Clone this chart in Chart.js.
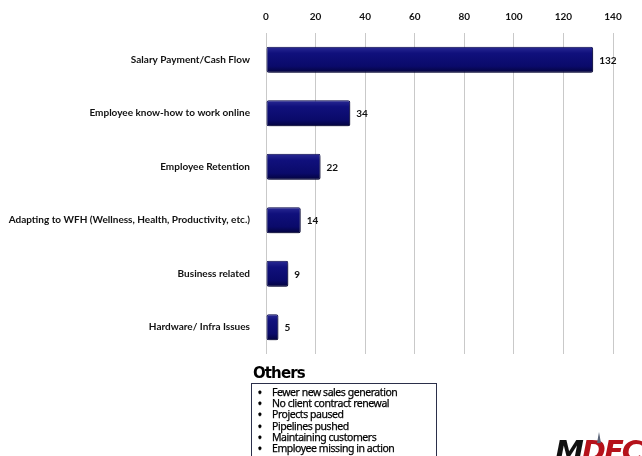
<!DOCTYPE html>
<html>
<head>
<meta charset="utf-8">
<script src="https://cdn.jsdelivr.net/npm/chart.js@4.4.1/dist/chart.umd.min.js"></script>
<style>
    html, body { margin: 0; padding: 0; background: #fff; }
    #wrap { position: relative; width: 642px; height: 456px; overflow: hidden; }
    #chart { position: absolute; left: 0; top: 0; }
    #othersTitle {
        position: absolute; left: 253px; top: 364px;
        font: bold 15px "DejaVu Sans", sans-serif; letter-spacing: -0.9px; color: #000;
    }
    #othersBox {
        position: absolute; left: 251px; top: 383px; width: 186px; height: 90px;
        border: 1.5px solid #2b2f4a; box-sizing: border-box;
    }
    #othersBox ul { margin: 3px 0 0 0; padding: 0 0 0 20px; list-style: none; }
    #othersBox li {
        position: relative; font: 10.5px/11.2px "Noto Sans", sans-serif; color: #000;
        letter-spacing: -0.45px; -webkit-text-stroke: 0.25px #000;
    }
    #othersBox li::before { content: "\2022"; position: absolute; left: -14px; font-size: 10px; font-weight: bold; }
    #logo {
        position: absolute; left: 555px; top: 434px;
        font: italic 900 29px "DejaVu Sans", sans-serif; letter-spacing: -2px;
    }
    #logo .m { color: #111; }
    #logo .d { color: #b5121b; }
    #spire {
        position: absolute; left: 597px; top: 432px; width: 0; height: 0;
        border-left: 2px solid transparent; border-right: 2px solid transparent;
        border-bottom: 11px solid #5a6478;
    }
</style>
</head>
<body>
<div id="wrap">
    <canvas id="chart" width="642" height="456"></canvas>
    <div id="othersTitle">Others</div>
    <div id="othersBox"><ul id="othersList"></ul></div>
    <div id="logo"><span class="m">M</span><span class="d">DEC</span></div>
    <div id="spire"></div>
</div>
<script>
const categories = [
    "Salary Payment/Cash Flow",
    "Employee know-how to work online",
    "Employee Retention",
    "Adapting to WFH (Wellness, Health, Productivity, etc.)",
    "Business related",
    "Hardware/ Infra Issues",
];
const counts = [132, 34, 22, 14, 9, 5];
const xTicks = [0, 20, 40, 60, 80, 100, 120, 140];
const otherItems = [
    "Fewer new sales generation",
    "No client contract renewal",
    "Projects paused",
    "Pipelines pushed",
    "Maintaining customers",
    "Employee missing in action",
];

const listEl = document.getElementById("othersList");
otherItems.forEach((t) => {
    const li = document.createElement("li");
    li.textContent = t;
    listEl.appendChild(li);
});

const LABEL_FONT = { family: "Lato, sans-serif", size: 10, weight: "bold" };

function barFill(ctx) {
    const chart = ctx.chart;
    const y = chart.scales?.y;
    if (!y || !chart.chartArea || ctx.dataIndex === undefined) return "#0d0d72";
    const c = y.getPixelForValue(ctx.dataIndex);
    const g = chart.ctx.createLinearGradient(0, c - 13, 0, c + 13);
    g.addColorStop(0, "#2a2a94");
    g.addColorStop(0.25, "#10107c");
    g.addColorStop(0.75, "#0a0a6a");
    g.addColorStop(1, "#03033c");
    return g;
}

const barShadow = {
    id: "barShadow",
    beforeDatasetDraw(chart) {
        const c = chart.ctx;
        c.save();
        c.shadowColor = "rgba(0,0,0,0.35)";
        c.shadowBlur = 3;
        c.shadowOffsetX = 2;
        c.shadowOffsetY = 2;
    },
    afterDatasetDraw(chart) {
        chart.ctx.restore();
    },
};

const valueLabels = {
    id: "valueLabels",
    afterDatasetsDraw(chart) {
        const c = chart.ctx;
        const meta = chart.getDatasetMeta(0);
        c.save();
        c.font = "bold 10px Lato, sans-serif";
        c.fillStyle = "#111";
        c.textAlign = "left";
        c.textBaseline = "middle";
        meta.data.forEach((bar, i) => {
            c.fillText(String(counts[i]), bar.x + 6, bar.y + 1);
        });
        c.restore();
    },
};

new Chart(document.getElementById("chart"), {
    type: "bar",
    data: {
        labels: categories,
        datasets: [{
            data: counts,
            backgroundColor: barFill,
            borderColor: "#05054a",
            borderWidth: 1,
            borderRadius: 2,
            borderSkipped: false,
            categoryPercentage: 1,
            barPercentage: 0.49,
        }],
    },
    options: {
        indexAxis: "y",
        responsive: false,
        animation: false,
        layout: { padding: { left: 0, right: 29, top: 0, bottom: 102 } },
        plugins: { legend: { display: false }, tooltip: { enabled: false } },
        scales: {
            x: {
                position: "top",
                min: 0,
                max: 140,
                afterBuildTicks: (s) => { s.ticks = xTicks.map((v) => ({ value: v })); },
                afterFit: (s) => { s.height = 33; },
                ticks: { color: "#111", font: LABEL_FONT, padding: 10 },
                grid: { color: "#c9c9c9", lineWidth: 1, drawTicks: false },
                border: { display: false },
            },
            y: {
                afterFit: (s) => { s.width = 266; },
                ticks: { color: "#111", font: LABEL_FONT, padding: 8 },
                grid: { display: false },
                border: { display: false },
            },
        },
    },
    plugins: [barShadow, valueLabels],
});
</script>
</body>
</html>
